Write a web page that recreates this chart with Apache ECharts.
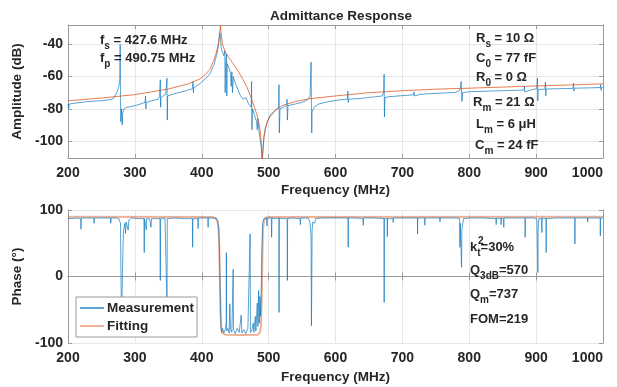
<!DOCTYPE html>
<html>
<head>
<meta charset="utf-8">
<script src="https://cdn.jsdelivr.net/npm/echarts@6/dist/echarts.min.js"></script>
<style>
  html, body { margin: 0; padding: 0; background: #fff; }
  #chart { width: 617px; height: 387px; }
</style>
</head>
<body>
<div id="chart"></div>
<script>
// values: [frequency MHz, value]
const ampFit = [
  [200,-75],[250,-73.3],[300,-71.2],[350,-67.7],[380,-64.5],[397,-61.5],[406,-58.5],[412,-55.6],
  [418,-50],[422,-45],[425,-39],[427,-32],[428,-28.5],[429,-33],[431,-40],[435,-44.5],[440,-48],
  [447,-52],[455,-57],[462,-62],[467,-66],[472,-71],[477,-77],[482,-83],[486,-90],[488,-96],
  [489.5,-104],[490.5,-112],[491.5,-106],[493,-98],[495,-93],[498,-88],[502,-85],[510,-81],
  [520,-78],[540,-75.5],[560,-73.8],[600,-72],[650,-70],[700,-68.8],[750,-67.8],[800,-67.2],
  [850,-66.5],[900,-65.8],[950,-65.2],[1000,-64.5]
];
const ampMeas = [
  [200,-77],[201,-80],[202,-77],[210,-76.5],[220,-76],[230,-75.5],[240,-75.2],[250,-75],[260,-74.5],
  [265,-74],[268,-73.5],[270,-72],[273,-70],[276,-66],[277.5,-62],[278,-40],[278.5,-75],[279,-88],
  [280,-80],[281,-90],[282,-82],[284,-80],[288,-79],[295,-78.5],[305,-77.5],[315,-76],[316,-72],
  [316.5,-80],[317,-76],[325,-75],[335,-74],[337,-72],[338,-62],[338.5,-79],[339,-73],[346,-71],
  [347.5,-70],[348,-61],[348.5,-87],[349,-72],[360,-70.5],[375,-69],[386,-67.5],[387,-63],
  [387.5,-70],[388,-67],[397,-64.5],[405,-61.5],[412,-58.5],[418,-53],[422,-47],[425,-41],
  [427,-33],[428,-35],[429,-42],[431,-45],[433,-47],[434.5,-44],[435,-70],[436,-50],[437,-46],
  [437.5,-72],[438,-52],[441,-55],[443,-58],[444,-66],[445,-57],[446,-70],[447,-60],[450,-64],
  [454,-68],[458,-72],[462,-74],[466,-73],[470,-77],[474,-79],[474.5,-63],[475,-93],[476,-80],
  [479,-84],[482,-88],[483,-93],[484,-86],[486,-95],[487,-98],[488,-101],[489,-104],[490,-110],
  [490.5,-112],[491.5,-104],[493,-97],[495,-92],[498,-88],[502,-84],[507,-82],[512,-80],[515,-79],
  [515.5,-65],[516,-95],[517,-80],[522,-79],[527,-78],[527.5,-74],[528,-87],[529,-78],[540,-77],
  [550,-76],[558,-74.5],[562,-72],[563.5,-51],[564,-80],[564.5,-95],[565,-82],[568,-79],[575,-77],
  [590,-75.5],[605,-74.5],[618,-74],[618.5,-69],[619,-76],[620,-74],[640,-73.5],[648,-73],
  [660,-72.5],[670,-72],[672,-70],[672.7,-58.5],[673.2,-85],[674,-73],[680,-72.5],[700,-71.8],
  [717,-71.3],[717.5,-69.5],[718,-72],[727,-71],[727.5,-70],[728,-72],[742,-70.6],[760,-70.2],
  [780,-69.8],[786,-68.5],[788,-63],[789,-75.5],[790,-70],[800,-69.4],[830,-69],[848,-68.8],
  [870,-68.5],[882,-68.3],[882.5,-66],[883,-69.5],[895,-68],[901,-67.5],[902,-61],[902.5,-75],
  [903,-68],[913,-67.8],[914,-63.5],[914.5,-72],[915,-67.7],[935,-67.5],[955,-67.3],[956,-64],
  [956.5,-69],[957,-67.2],[980,-67],[996,-66.8],[996.5,-65],[997,-68.5],[998,-66.8],[1000,-66.7]
];
const phaseFit = [
  [200,90],[415,89.5],[420,88],[423,85],[425,75],[426,50],[427,0],[428,-50],[429,-75],[431,-85],
  [435,-87.5],[460,-88],[484,-87.5],[487,-84],[488.5,-75],[489.5,-40],[490.5,20],[491.5,70],
  [493,84],[496,88.5],[500,89.5],[1000,90]
];
const phaseMeas = [
  [200,88],[203,87],[204.5,84],[205,88],[215,88],[219,87],[219.4,71],[220,88],[238.5,88],[239,80],
  [239.5,88],[255,88],[263.5,88],[264,80],[264.5,88],[272,88],[276,87],[278.5,80],[279,20],
  [280,-60],[281,-20],[282,34],[283,70],[285,80],[286,65],[287,82],[290,70],[291,85],[295,88],
  [305,87],[313.5,87],[314,36],[314.5,87],[317,70],[317.5,87],[322,87],[324,74],[325,87],[330,87],
  [337.5,87],[338,-6],[338.5,87],[345,88],[347.5,87],[348,-40],[348.5,87],[360,88],[370,87],
  [386,87],[386.4,44],[386.8,87],[394,87],[394.5,72],[395,88],[409,88],[409.5,74],[410,88],
  [418,88],[422,87],[424,82],[425.5,70],[426.5,40],[427.5,-20],[428.5,-70],[429.5,-84],[431,-78],
  [433,-85],[435,-80],[436.5,-70],[436.8,36],[437.2,-82],[439,-78],[441,-85],[442,-41],[443,-80],
  [445,-84],[447,11],[447.5,-80],[450,-86],[453,-78],[456,-84],[459,-58],[460,-85],[463,-80],
  [466,-86],[469,-78],[472.3,64],[472.8,-84],[475,-80],[477,-70],[478,-84],[480,-60],[481,-82],
  [483,-40],[484,-75],[485,-21],[486,-70],[487,-30],[488,-60],[489,-20],[490,40],[491,80],[493,87],
  [495,88],[497,88],[497.5,76],[498,88],[504,88],[504.5,59],[505,88],[510,87],[515.3,88],
  [515.6,-54],[516,88],[520,87],[527.7,87],[528,-6],[528.4,87],[535,88],[547,87],[547.5,78],
  [548,88],[556,88],[560,87],[562,80],[563.5,60],[564,-74],[564.5,-20],[565,70],[566,82],[569,80],
  [570,87],[580,88],[600,88],[618.7,88],[619,44],[619.3,88],[630,88],[641,87],[641.5,77],[642,88],
  [660,88],[672.5,87],[672.8,-39],[673.1,87],[677.3,87],[677.5,60],[677.8,87],[686,87],[686.3,81],
  [686.6,88],[700,88],[722.5,88],[722.7,64],[723,88],[733.4,88],[733.6,77],[733.9,88],[756,88],
  [756.2,82],[756.5,88],[780,88],[785.8,87],[786,44],[786.5,80],[788.5,14],[789,70],[791,68],
  [791.5,87],[800,88],[820,88],[840,87],[840.3,78],[840.6,88],[847.5,87],[847.7,78],[848,88],
  [851.4,87],[851.6,74],[851.9,88],[870,88],[883.4,88],[883.6,59],[883.9,88],[895,88],[901,87],
  [902.6,6],[903,70],[904,87],[908.4,87],[908.6,66],[908.9,88],[914.8,87],[915,36],[915.3,87],
  [930,88],[957.8,88],[958,49],[958.3,88],[976.8,88],[977,82],[977.3,88],[995.8,88],[996,61],
  [996.3,88],[1000,88]
];
const ampTicks = [-100, -80, -60, -40];
const phaseTicks = [-100, 0, 100];

const FONT = "'Liberation Sans', Arial, sans-serif";
const TXT = '#262626';
const FRAME = '#9a9a9a';
const BLUE = '#0072BD';
const ORANGE = '#D95319';

const chart = echarts.init(document.getElementById('chart'));

function bottomX(gi, name, gap) {
  return {
    type: 'value', gridIndex: gi, min: 200, max: 1000, interval: 100,
    name: name, nameLocation: 'middle', nameGap: gap,
    nameTextStyle: { fontFamily: FONT, fontWeight: 'bold', fontSize: 13.5, color: TXT },
    axisLine: { lineStyle: { color: FRAME } },
    axisTick: { inside: true, length: 4, lineStyle: { color: FRAME } },
    axisLabel: { fontFamily: FONT, fontWeight: 'bold', fontSize: 14, color: TXT, margin: 8,
      alignMaxLabel: 'right', formatter: v => String(v) },
    splitLine: { lineStyle: { color: '#e6e6e6' } }
  };
}
function topX(gi) {
  return {
    type: 'value', gridIndex: gi, position: 'top', min: 200, max: 1000, interval: 100,
    axisLine: { lineStyle: { color: FRAME } },
    axisTick: { inside: true, length: 4, lineStyle: { color: FRAME } },
    axisLabel: { show: false }, splitLine: { show: false }
  };
}
function leftY(gi, min, max, ticks, name) {
  return {
    type: 'value', gridIndex: gi, min: min, max: max,
    name: name, nameLocation: 'middle', nameGap: 33,
    nameTextStyle: { fontFamily: FONT, fontWeight: 'bold', fontSize: 13.5, color: TXT },
    axisLine: { show: true, lineStyle: { color: FRAME } },
    axisTick: { show: true, inside: true, length: 4, customValues: ticks, lineStyle: { color: FRAME } },
    axisLabel: { fontFamily: FONT, fontWeight: 'bold', fontSize: 14, color: TXT, margin: 5, customValues: ticks },
    splitLine: { show: true, lineStyle: { color: '#e6e6e6' } }
  };
}
function rightY(gi, min, max, ticks) {
  return {
    type: 'value', gridIndex: gi, position: 'right', min: min, max: max,
    axisLine: { show: true, lineStyle: { color: FRAME } },
    axisTick: { show: true, inside: true, length: 4, customValues: ticks, lineStyle: { color: FRAME } },
    axisLabel: { show: false }, splitLine: { show: false }
  };
}

function sub(t) { return '{s|' + t + '}'; }
function ann(x, y, text) {
  return {
    type: 'text', x: x, y: y, z: 100,
    style: {
      text: text, fill: TXT, verticalAlign: 'middle',
      rich: {
        m: { fontFamily: FONT, fontWeight: 'bold', fontSize: 13, fill: TXT, verticalAlign: 'bottom' },
        s: { fontFamily: FONT, fontWeight: 'bold', fontSize: 10, fill: TXT, verticalAlign: 'bottom', padding: [0, 0, -5, 0] }
      }
    }
  };
}

const option = {
  animation: false,
  title: {
    text: 'Admittance Response', left: 336, top: 4, textAlign: 'center',
    textStyle: { fontFamily: FONT, fontWeight: 'bold', fontSize: 13.5, color: TXT }
  },
  grid: [
    { left: 68, right: 14, top: 25, height: 133 },
    { left: 68, right: 14, top: 210, height: 133 }
  ],
  xAxis: [bottomX(0, 'Frequency (MHz)', 25), topX(0), bottomX(1, 'Frequency (MHz)', 27), topX(1)],
  yAxis: [
    leftY(0, -110.5, -28, ampTicks, 'Amplitude (dB)'), rightY(0, -110.5, -28, ampTicks),
    leftY(1, -100, 100, phaseTicks, 'Phase (°)'), rightY(1, -100, 100, phaseTicks)
  ],
  legend: {
    left: 76, top: 297, orient: 'vertical', icon: 'rect', itemWidth: 24, itemHeight: 2, itemGap: 4,
    padding: [4, 3, 4, 4], backgroundColor: '#fff', borderColor: FRAME, borderWidth: 1, borderRadius: 0,
    textStyle: { fontFamily: FONT, fontWeight: 'bold', fontSize: 13.5, color: TXT, padding: [0, 0, 0, -2] },
    data: [
      { name: 'Measurement', itemStyle: { color: BLUE, opacity: 0.65 } },
      { name: 'Fitting', itemStyle: { color: ORANGE, opacity: 0.45 } }
    ]
  },
  series: [
    { name: 'Measurement', type: 'line', xAxisIndex: 0, yAxisIndex: 0, data: ampMeas, symbol: 'none',
      lineStyle: { color: BLUE, width: 1, opacity: 0.65 }, itemStyle: { color: BLUE }, z: 2 },
    { name: 'Fitting', type: 'line', xAxisIndex: 2, yAxisIndex: 2, data: phaseFit, symbol: 'none',
      lineStyle: { color: ORANGE, width: 2, opacity: 0.45 }, itemStyle: { color: ORANGE }, z: 1 },
    { name: 'Fitting', type: 'line', xAxisIndex: 0, yAxisIndex: 0, data: ampFit, symbol: 'none',
      lineStyle: { color: ORANGE, width: 1, opacity: 0.75 }, itemStyle: { color: ORANGE }, z: 3 },
    { name: 'Measurement', type: 'line', xAxisIndex: 2, yAxisIndex: 2, data: phaseMeas, symbol: 'none',
      lineStyle: { color: BLUE, width: 1, opacity: 0.65 }, itemStyle: { color: BLUE }, z: 2 }
  ],
  graphic: [
    ann(100, 40, '{m|f}' + sub('s') + '{m| = 427.6 MHz}'),
    ann(100, 58, '{m|f}' + sub('p') + '{m| = 490.75 MHz}'),
    ann(476, 38, '{m|R}' + sub('s') + '{m| = 10 Ω}'),
    ann(476, 58, '{m|C}' + sub('0') + '{m| = 77 fF}'),
    ann(476, 77, '{m|R}' + sub('0') + '{m| = 0 Ω}'),
    ann(473, 102, '{m|R}' + sub('m') + '{m| = 21 Ω}'),
    ann(476, 124, '{m|L}' + sub('m') + '{m| = 6 μH}'),
    ann(475, 145, '{m|C}' + sub('m') + '{m| = 24 fF}'),
    ann(470, 247, '{m|k}' + sub('t') + '{m|=30%}'),
    { type: 'text', x: 478, y: 241, z: 100,
      style: { text: '2', fontFamily: FONT, fontWeight: 'bold', fontSize: 10, fill: TXT, verticalAlign: 'middle' } },
    ann(470, 270, '{m|Q}' + sub('3dB') + '{m|=570}'),
    ann(470, 294, '{m|Q}' + sub('m') + '{m|=737}'),
    ann(470, 319, '{m|FOM=219}')
  ]
};
chart.setOption(option);
</script>
</body>
</html>
